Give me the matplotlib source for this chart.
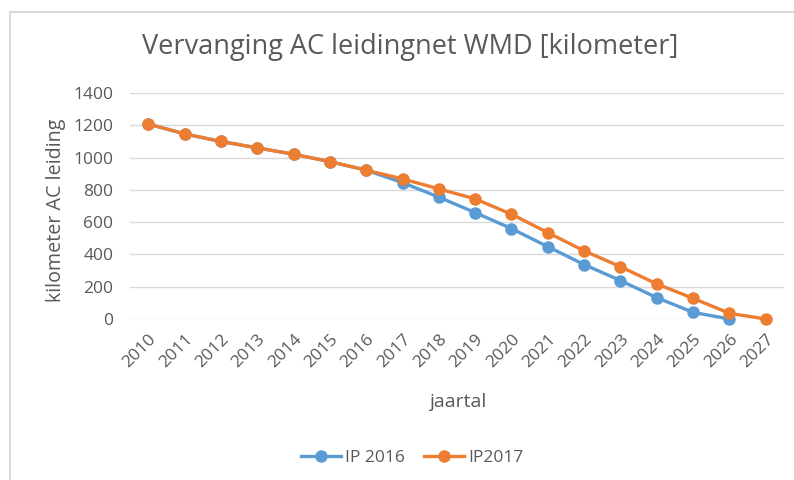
import matplotlib
matplotlib.use("Agg")
import matplotlib.pyplot as plt
from matplotlib.patches import Rectangle

years = [str(y) for y in range(2010, 2028)]
ip2016 = [1208, 1147, 1100, 1060, 1021, 975, 922, 845, 755, 659, 560, 448, 337, 238, 132, 41, 0]
ip2017 = [1208, 1147, 1100, 1060, 1021, 975, 922, 868, 806, 744, 649, 535, 422, 324, 217, 128, 35, 0]
yticks = [0, 200, 400, 600, 800, 1000, 1200, 1400]

plt.rcParams['font.family'] = ['Open Sans', 'DejaVu Sans']
W, H = 794, 480
fig = plt.figure(figsize=(W/100, H/100), dpi=100)
fig.patches.append(Rectangle((10/W, -0.1), 1.2, 1 - 12/H + 0.1, transform=fig.transFigure,
                             fill=False, edgecolor='#D9D9D9', linewidth=1.5))

ax = fig.add_axes([130/W, 1 - 319/H, (784-130)/W, (319-93)/H])
x = list(range(len(years)))
ax.plot(x[:len(ip2016)], ip2016, color='#5B9BD5', lw=2.4, marker='o', ms=8, label='IP 2016',
        zorder=3, clip_on=False)
ax.plot(x, ip2017, color='#ED7D31', lw=2.4, marker='o', ms=8, label='IP2017',
        zorder=4, clip_on=False)

ax.set_xlim(-0.5, len(years) - 0.5)
ax.set_ylim(0, 1400)
ax.set_yticks(yticks)
ax.set_yticklabels([str(v) for v in yticks], fontsize=12.5, color='#595959')
ax.set_xticks(x)
ax.set_xticklabels(years, rotation=45, ha='right', rotation_mode='anchor', fontsize=12.5, color='#595959')
ax.tick_params(axis='both', length=0)
ax.tick_params(axis='y', pad=12)
ax.tick_params(axis='x', pad=9)
ax.grid(axis='y', color='#D9D9D9', lw=1)
ax.set_axisbelow(True)
for s in ax.spines.values():
    s.set_visible(False)

fig.text(410/W, 1 - 47/H, 'Vervanging AC leidingnet WMD [kilometer]', ha='center', va='center',
         fontsize=19.5, color='#595959')
fig.text(56/W, 1 - 210/H, 'kilometer AC leiding', rotation=90, ha='center', va='center',
         fontsize=14.2, color='#595959')
fig.text(458/W, 1 - 402/H, 'jaartal', ha='center', va='center', fontsize=14, color='#595959')

leg = fig.legend(loc='center', bbox_to_anchor=(412/W, 1 - 458/H), ncol=2, frameon=False,
                 fontsize=12.5, handlelength=2.3, columnspacing=1.1, handletextpad=0.25,
                 borderpad=0, borderaxespad=0)
for t in leg.get_texts():
    t.set_color('#595959')

fig.savefig('out.png', dpi=100)
